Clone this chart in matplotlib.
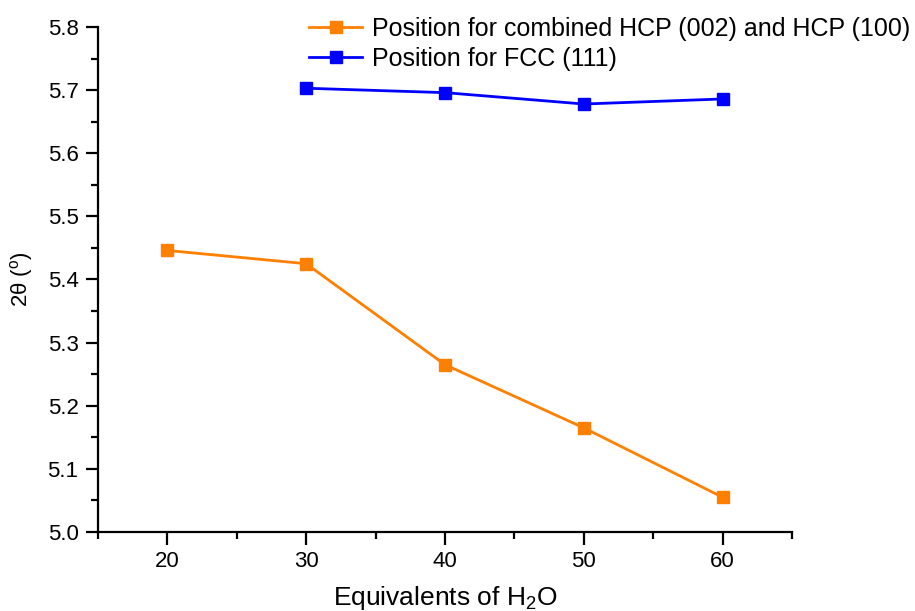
import matplotlib
matplotlib.use("Agg")
import matplotlib.pyplot as plt
from matplotlib.ticker import MultipleLocator

x_hcp = [20, 30, 40, 50, 60]
y_hcp = [5.446, 5.425, 5.265, 5.165, 5.055]
x_fcc = [30, 40, 50, 60]
y_fcc = [5.703, 5.696, 5.678, 5.686]
label_hcp = "Position for combined HCP (002) and HCP (100)"
label_fcc = "Position for FCC (111)"

plt.rcParams['font.family'] = ['Liberation Sans', 'DejaVu Sans']
plt.rcParams['mathtext.fontset'] = 'custom'
plt.rcParams['mathtext.rm'] = 'Liberation Sans'
plt.rcParams['mathtext.it'] = 'Liberation Sans:italic'

fig = plt.figure(figsize=(9.15, 6.11), dpi=100)
ax = fig.add_axes([98/915, 1-532/611, (792-98)/915, (532-27)/611])

ax.plot(x_hcp, y_hcp, color='#ff7f00', lw=2, marker='s', ms=8, label=label_hcp)
ax.plot(x_fcc, y_fcc, color='#0000ff', lw=2, marker='s', ms=8, label=label_fcc)

ax.set_xlim(15, 65)
ax.set_ylim(5.0, 5.8)
ax.xaxis.set_major_locator(MultipleLocator(10))
ax.xaxis.set_minor_locator(MultipleLocator(5))
ax.yaxis.set_major_locator(MultipleLocator(0.1))
ax.yaxis.set_minor_locator(MultipleLocator(0.05))
ax.yaxis.set_major_formatter(matplotlib.ticker.FormatStrFormatter('%.1f'))
for s in ['top', 'right']:
    ax.spines[s].set_visible(False)
for s in ['left', 'bottom']:
    ax.spines[s].set_linewidth(1.6)
ax.tick_params(which='major', direction='out', length=9, width=1.6, labelsize=16, pad=5)
ax.tick_params(which='minor', direction='out', length=5, width=1.6)

ax.set_xlabel(r"Equivalents of H$_2$O", fontsize=19, labelpad=8)
ax.set_ylabel("2θ ($^{\\rm o}$)", fontsize=16, labelpad=9)

fig.legend(loc='upper right', bbox_to_anchor=(1.011, 0.997), frameon=False,
           fontsize=18, handlelength=2.1, handletextpad=0.4, labelspacing=0.25,
           borderaxespad=0.2)

fig.savefig("out.png", dpi=100)
